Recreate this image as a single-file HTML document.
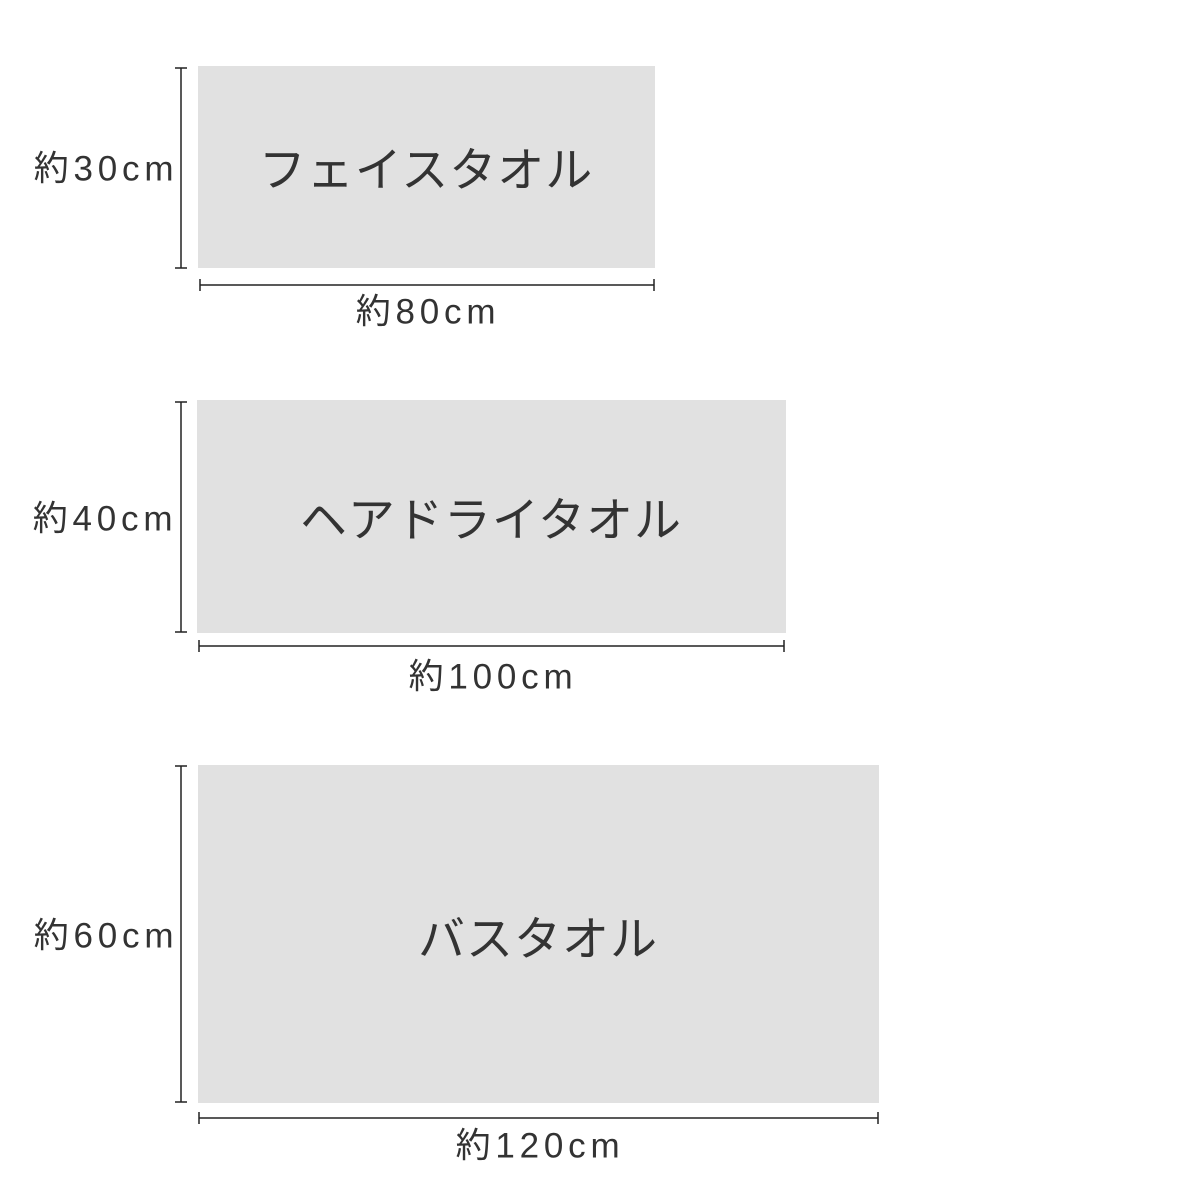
<!DOCTYPE html>
<html><head><meta charset="utf-8"><style>
html,body{margin:0;padding:0;background:#fff;}
body{width:1200px;height:1200px;position:relative;overflow:hidden;font-family:"Liberation Sans","Noto Sans CJK JP",sans-serif;color:#333;}
.r{position:absolute;background:#e1e1e1;}
.t{position:absolute;white-space:nowrap;transform:translate(-50%,-50%);}
.big{font-size:47px;letter-spacing:1px;color:#333;}
.sm{font-size:35px;letter-spacing:4.8px;color:#333;}
</style></head><body>
<div class="r" style="left:198px;top:66px;width:457px;height:202px"></div>
<div class="t big" style="left:426px;top:166px">フェイスタオル</div>
<div class="r" style="left:197px;top:400px;width:589px;height:233px"></div>
<div class="t big" style="left:491px;top:516px">ヘアドライタオル</div>
<div class="r" style="left:198px;top:765px;width:681px;height:338px"></div>
<div class="t big" style="left:538px;top:935px">バスタオル</div>

<svg width="1200" height="1200" style="position:absolute;left:0;top:0" stroke="#222" stroke-width="1.5" fill="none">
<path d="M181 68V268M175 68H187M175 268H187"/>
<path d="M200 285H654M200 279V291M654 279V291"/>
<path d="M181 402V632M175 402H187M175 632H187"/>
<path d="M199 646H784M199 640V652M784 640V652"/>
<path d="M181 766V1102M175 766H187M175 1102H187"/>
<path d="M199 1118H878M199 1112V1124M878 1112V1124"/>
</svg>

<div class="t sm" style="left:106px;top:166px">約30cm</div>
<div class="t sm" style="left:428px;top:309px">約80cm</div>
<div class="t sm" style="left:105px;top:516px">約40cm</div>
<div class="t sm" style="left:493px;top:674px">約100cm</div>
<div class="t sm" style="left:106px;top:933px">約60cm</div>
<div class="t sm" style="left:540px;top:1143px">約120cm</div>
</body></html>
